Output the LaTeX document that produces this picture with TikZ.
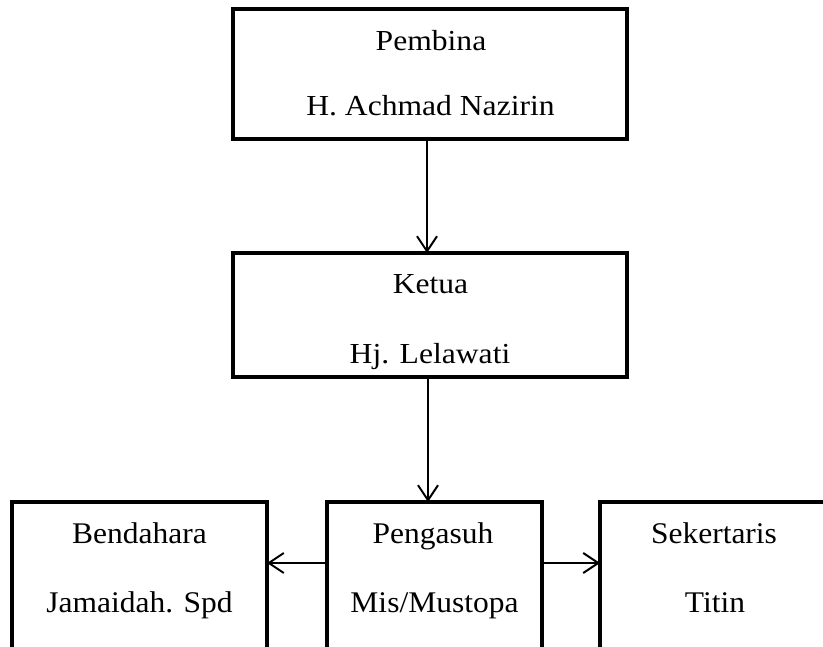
\documentclass[tikz,border=0pt]{standalone}
\usepackage{fontspec}
\setmainfont{Liberation Serif}
\newfontfamily\topfont[FakeStretch=1.09]{Liberation Serif}
\newfontfamily\botfont[FakeStretch=1.05]{Liberation Serif}
\usetikzlibrary{arrows.meta}
\begin{document}
\begin{tikzpicture}[x=1pt,y=-1pt,
  box/.style={draw,line width=4pt,rectangle,inner sep=0pt,outer sep=0pt},
  toptxt/.style={anchor=base,inner sep=0pt,font=\topfont\fontsize{29}{34}\selectfont},
  bottxt/.style={anchor=base,inner sep=0pt,font=\botfont\fontsize{30}{36}\selectfont},
  conn/.style={line width=2pt,-{Straight Barb[length=15pt,width=20pt,line width=2pt]}}]
\useasboundingbox (0,0) rectangle (823,647);
\clip (0,0) rectangle (823,647);
% boxes
\node[box,minimum width=394pt,minimum height=130pt] (pembina) at (430,74.5) {};
\node[box,minimum width=394pt,minimum height=124pt] (ketua) at (430,315) {};
\node[box,minimum width=255.5pt,minimum height=300pt] (bend) at (139.25,652) {};
\node[box,minimum width=215.5pt,minimum height=300pt] (peng) at (434.25,652) {};
\node[box,minimum width=228pt,minimum height=300pt] (sek) at (714,652) {};
% texts
\node[toptxt] (t1) at (431,51) {Pembina};
\node[toptxt] (t2) at (430.5,116) {H. Achmad Nazirin};
\node[toptxt] (t3) at (430.5,294) {Ketua};
\node[toptxt] (t4) at (430,363) {Hj. Lelawati};
\node[bottxt] (t5) at (139.5,543) {Bendahara};
\node[bottxt] (t6) at (139.5,612) {Jamaidah. Spd};
\node[bottxt] (t7) at (433,543) {Pengasuh};
\node[bottxt] (t8) at (434.5,612) {Mis/Mustopa};
\node[bottxt] (t9) at (714,543) {Sekertaris};
\node[bottxt] (t10) at (715,612) {Titin};
% connectors
\coordinate (ps) at ([xshift=-3pt]pembina.south);
\coordinate (ks) at ([xshift=-2pt]ketua.south);
\coordinate (mid) at (0,563);
\draw[conn] (ps) -- (ps |- ketua.north);
\draw[conn] (ks) -- (ks |- peng.north);
\draw[conn] (peng.west |- mid) -- (bend.east |- mid);
\draw[conn] (peng.east |- mid) -- (sek.west |- mid);
\end{tikzpicture}
\end{document}
